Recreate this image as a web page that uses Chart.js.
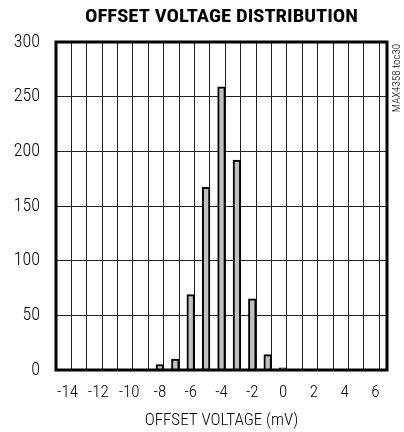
<!DOCTYPE html>
<html>
<head>
<meta charset="utf-8">
<script src="https://cdn.jsdelivr.net/npm/chart.js@4/dist/chart.umd.min.js"></script>
<style>
  html, body { margin: 0; padding: 0; background: #fff; }
</style>
</head>
<body>
<canvas id="c" width="404" height="432"></canvas>
<script>
// Data
const binCenters = [-8, -7, -6, -5, -4, -3, -2, -1, 0];       // offset voltage (mV)
const counts     = [5, 10, 69, 167, 259, 192, 65, 14, 2];    // number of units
const xTickLabels = [-14, -12, -10, -8, -6, -4, -2, 0, 2, 4, 6];
const yTickLabels = [0, 50, 100, 150, 200, 250, 300];
const titleText = 'OFFSET VOLTAGE DISTRIBUTION';
const xTitleText = 'OFFSET VOLTAGE (mV)';
const noteText = 'MAX4358 toc30';

const FAMILY = "Roboto, 'DejaVu Sans Condensed', sans-serif";

const framePlugin = {
  id: 'frame',
  afterDraw(chart) {
    const { ctx, chartArea: a } = chart;
    ctx.save();
    ctx.strokeStyle = '#000';
    ctx.lineWidth = 3;
    ctx.strokeRect(a.left, a.top, a.right - a.left, a.bottom - a.top);
    ctx.restore();

    // Title, centred over the plot area
    ctx.save();
    ctx.fillStyle = '#000';
    ctx.font = "normal bold condensed 19px " + FAMILY;
    ctx.textAlign = 'center';
    ctx.textBaseline = 'middle';
    const w = ctx.measureText(titleText).width;
    const sx = Math.min(1.15, Math.max(0.8, 273 / w));
    ctx.translate((a.left + a.right) / 2, 17);
    ctx.scale(sx, 1);
    ctx.fillText(titleText, 0, 0);
    ctx.restore();

    // side note text
    ctx.save();
    ctx.fillStyle = '#000';
    ctx.translate(397, 78);
    ctx.rotate(-Math.PI / 2);
    ctx.font = "normal 300 condensed 11px " + FAMILY;
    ctx.textAlign = 'center';
    ctx.textBaseline = 'middle';
    ctx.fillText(noteText, 0, 0);
    ctx.restore();
  }
};

const data = binCenters.map((x, i) => ({ x: x, y: counts[i] }));

new Chart(document.getElementById('c'), {
  type: 'bar',
  data: {
    datasets: [{
      data: data,
      backgroundColor: '#c0c0c0',
      borderColor: '#000',
      borderWidth: 2,
      barPercentage: 1.0,
      categoryPercentage: 1.0
    }]
  },
  options: {
    responsive: false,
    animation: false,
    devicePixelRatio: 1,
    layout: { padding: { left: 0, right: 17, top: 42, bottom: 0 } },
    plugins: {
      legend: { display: false },
      tooltip: { enabled: false },
      title: { display: false }
    },
    scales: {
      x: {
        type: 'linear',
        min: -14.5,
        max: 6.5,
        afterBuildTicks(scale) {
          const t = [];
          for (let v = -14.5; v <= 6.5 + 1e-9; v += 0.5) t.push({ value: v });
          scale.ticks = t;
        },
        afterFit(scale) { scale.height = 62; },
        grid: {
          drawTicks: false,
          lineWidth: 1,
          color: (c) => {
            const v = c.tick ? c.tick.value : 0;
            return (Math.abs(v - Math.round(v)) > 0.25) ? '#222' : 'rgba(0,0,0,0)';
          }
        },
        border: { display: false },
        ticks: {
          autoSkip: false,
          maxRotation: 0,
          padding: 13,
          color: '#000',
          font: { family: FAMILY, size: 17, weight: '300 condensed', lineHeight: 1.2 },
          callback: (v) => xTickLabels.includes(v) ? String(v) : ''
        },
        title: {
          display: true,
          text: xTitleText,
          color: '#000',
          font: { family: FAMILY, size: 17, weight: '300 condensed', lineHeight: 1.2 },
          padding: { top: 0, bottom: 1 }
        }
      },
      y: {
        min: 0,
        max: 300,
        afterBuildTicks(scale) {
          scale.ticks = yTickLabels.map(v => ({ value: v }));
        },
        afterFit(scale) { scale.width = 56; },
        grid: { drawTicks: false, color: '#222', lineWidth: 1 },
        border: { display: false },
        ticks: {
          padding: 16,
          color: '#000',
          font: { family: FAMILY, size: 18, weight: '300 condensed' }
        }
      }
    }
  },
  plugins: [framePlugin]
});
</script>
</body>
</html>
